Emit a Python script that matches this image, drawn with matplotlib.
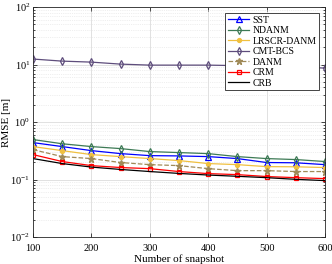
import matplotlib
matplotlib.use("Agg")
import matplotlib.pyplot as plt
import numpy as np

plt.rcParams['font.family'] = ['Liberation Serif', 'DejaVu Serif']
plt.rcParams['mathtext.fontset'] = 'stix'

# data
snapshots = [100, 150, 200, 250, 300, 350, 400, 450, 500, 550, 600]
sst = [0.44, 0.375, 0.319, 0.283, 0.261, 0.258, 0.251, 0.232, 0.198, 0.196, 0.182]
ndanm = [0.497, 0.42, 0.375, 0.346, 0.307, 0.295, 0.283, 0.251, 0.232, 0.223, 0.206]
lrscr = [0.375, 0.319, 0.272, 0.251, 0.232, 0.214, 0.19, 0.182, 0.168, 0.167, 0.162]
cmt_bcs = [12.5, 11.5, 11.05, 10.2, 9.8, 9.8, 9.8, 9.6, 9.4, 9.1, 8.7]
danm = [0.332, 0.251, 0.232, 0.198, 0.182, 0.175, 0.155, 0.143, 0.143, 0.138, 0.138]
crm = [0.272, 0.206, 0.175, 0.162, 0.155, 0.138, 0.127, 0.122, 0.113, 0.108, 0.104]
crb = [0.232, 0.19, 0.165, 0.15, 0.138, 0.128, 0.12, 0.114, 0.108, 0.101, 0.096]

fig = plt.figure(figsize=(3.32, 2.64), dpi=100)
ax = fig.add_axes([0.0994, 0.102, 0.8796, 0.871])

ms = 3.8
lw = 0.9
ax.plot(snapshots, sst, color='#0000ff', marker='^', ms=ms, mfc='none', mew=0.9, lw=lw, label='SST')
ax.plot(snapshots, ndanm, color='#3d7a55', marker='d', ms=ms, mfc='none', mew=0.9, lw=lw, label='NDANM')
ax.plot(snapshots, lrscr, color='#f0c040', marker='o', ms=2.8, lw=lw, label='LRSCR-DANM')
ax.plot(snapshots, cmt_bcs, color='#5e4d7c', marker='d', ms=ms, mfc='none', mew=0.9, lw=lw, label='CMT-BCS')
ax.plot(snapshots, danm, color='#a08a58', marker='*', ms=5, ls='--', lw=lw, label='DANM')
ax.plot(snapshots, crm, color='#ff0000', marker='s', ms=3.2, mfc='none', mew=0.9, lw=lw, label='CRM')
ax.plot(snapshots, crb, color='#000000', lw=lw, label='CRB')

ax.set_yscale('log')
ax.set_xlim(100, 600)
ax.set_ylim(1e-2, 1e2)
ax.set_xticks([100, 200, 300, 400, 500, 600])
ax.set_xlabel('Number of snapshot', fontsize=8, labelpad=1)
ax.set_ylabel('RMSE [m]', fontsize=8)
ax.yaxis.set_label_coords(-0.077, 0.5)
ax.tick_params(which='both', direction='in', top=True, right=True, labelsize=7.5, width=0.5)
ax.tick_params(axis='x', pad=5)
ax.tick_params(axis='y', pad=2)
ax.tick_params(which='major', length=3)
ax.tick_params(which='minor', length=1.5)
ax.grid(True, which='major', color='#dcdcdc', lw=0.6)
ax.grid(True, which='minor', color='#e0e0e0', lw=0.5, ls=':')
for s in ax.spines.values():
    s.set_color('#262626')
    s.set_linewidth(0.6)

leg = ax.legend(loc='upper right', bbox_to_anchor=(0.98, 0.975), fontsize=7, frameon=True,
                fancybox=False, edgecolor='#262626', handlelength=2.2, handletextpad=0.3,
                borderpad=0.3, labelspacing=0.15, borderaxespad=0, framealpha=1)
leg.get_frame().set_linewidth(0.6)

fig.savefig('out.png', dpi=100)
